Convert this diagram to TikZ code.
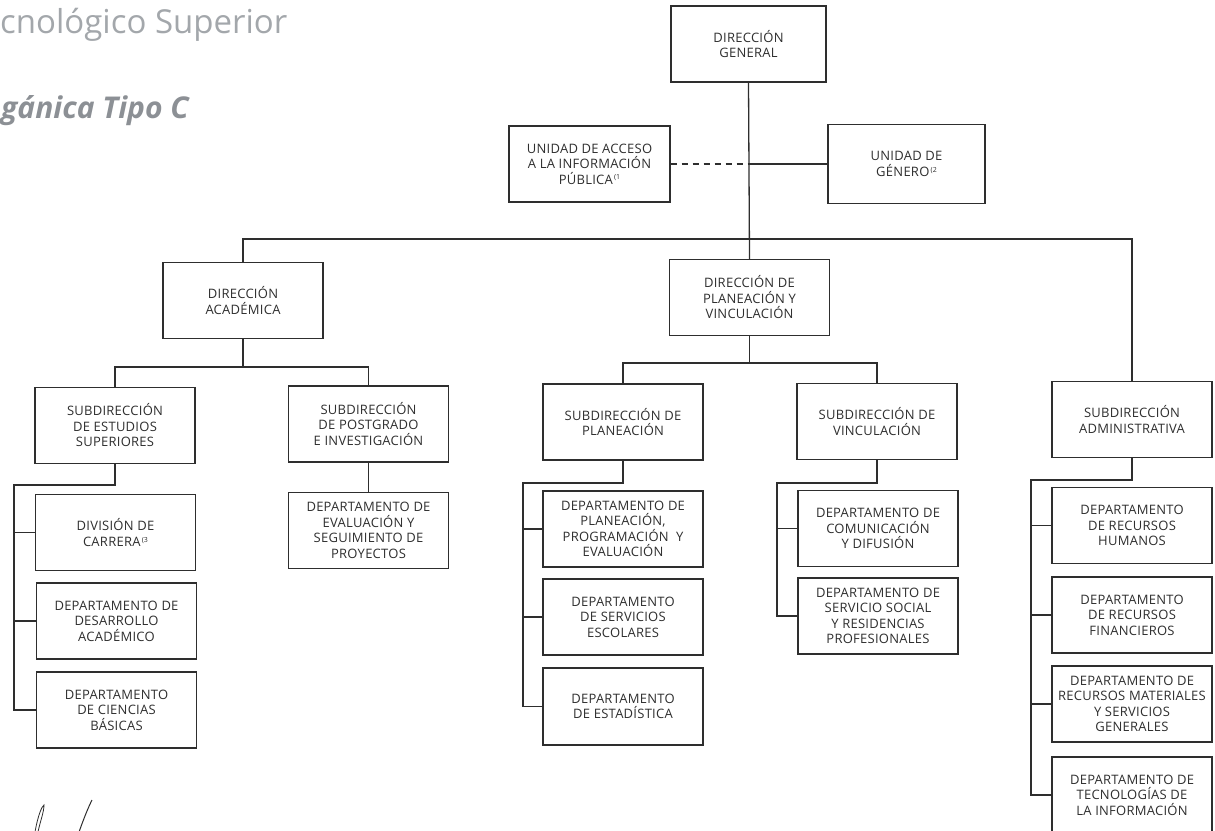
\documentclass[tikz,border=0pt]{standalone}
\usepackage{fontspec}
\newfontfamily\orgfont{Open Sans}[LetterSpace=2]
\newfontfamily\titlefont{Open Sans}
\definecolor{inkgray}{HTML}{2E2E2E}
\definecolor{titlegray}{HTML}{A3A7AB}
\definecolor{subtitlegray}{HTML}{8C9095}
\newcommand{\fnref}[1]{\raisebox{.6ex}{\fontsize{7}{7}\selectfont\,(#1}}
\tikzset{
  orgbox/.style={draw=inkgray, line width=1.3pt, minimum width=160pt, minimum height=76pt,
    inner sep=1pt, align=center, text=inkgray,
    font=\orgfont\fontsize{13}{15.5}\selectfont},
  orgline/.style={draw=inkgray, line width=1.3pt}
}
\begin{document}
\begin{tikzpicture}[x=1pt,y=-1pt]
        \useasboundingbox (0,0) rectangle (1215,830);
        \clip (0,0) rectangle (1215,830);

        % Title (cut at the left edge)
        \node[anchor=base west, inner sep=0pt, text=titlegray, font=\titlefont\fontsize{33}{33}\selectfont] (title) at (0,33) {cnológico Superior};
        \node[anchor=base west, inner sep=0pt, text=subtitlegray, font=\titlefont\itshape\bfseries\fontsize{30}{30}\selectfont] (subtitle) at (1,118) {gánica Tipo C};

        % Top level and staff units
        \node[orgbox, minimum width=155pt] (dg) at (748.5,44) {DIRECCIÓN\\GENERAL};
        \node[orgbox, minimum width=161pt] (uaip) at (589.5,164) {UNIDAD DE ACCESO\\A LA INFORMACIÓN\\PÚBLICA\fnref{1}};
        \node[orgbox, minimum width=157pt, minimum height=79pt] (ug) at (906.5,164) {UNIDAD DE\\GÉNERO\fnref{2}};

        % Second level
        \node[orgbox] (da) at (243,300.5) {DIRECCIÓN\\ACADÉMICA};
        \node[orgbox] (dpv) at (749.5,297.5) {DIRECCIÓN DE\\PLANEACIÓN Y\\VINCULACIÓN};
        \node[orgbox] (sa) at (1132,419.5) {SUBDIRECCIÓN\\ADMINISTRATIVA};

        % Subdirections
        \node[orgbox] (ses) at (115,425.5) {SUBDIRECCIÓN\\DE ESTUDIOS\\SUPERIORES};
        \node[orgbox] (spi) at (368.5,424) {SUBDIRECCIÓN\\DE POSTGRADO\\E INVESTIGACIÓN};
        \node[orgbox] (sp) at (623,422) {SUBDIRECCIÓN DE\\PLANEACIÓN};
        \node[orgbox] (sv) at (877,421.5) {SUBDIRECCIÓN DE\\VINCULACIÓN};

        % Departments
        \node[orgbox] (dc) at (115.5,532.5) {DIVISIÓN DE\\CARRERA\fnref{3}};
        \node[orgbox] (dda) at (116.5,621) {DEPARTAMENTO DE\\DESARROLLO\\ACADÉMICO};
        \node[orgbox] (dcb) at (116.5,710) {DEPARTAMENTO\\DE CIENCIAS\\BÁSICAS};
        \node[orgbox] (desp) at (368.5,530.5) {DEPARTAMENTO DE\\EVALUACIÓN Y\\SEGUIMIENTO DE\\PROYECTOS};
        \node[orgbox] (dppe) at (623,529) {DEPARTAMENTO DE\\PLANEACIÓN,\\PROGRAMACIÓN\ \ Y\\EVALUACIÓN};
        \node[orgbox] (dse) at (623,617) {DEPARTAMENTO\\DE SERVICIOS\\ESCOLARES};
        \node[orgbox, minimum height=77pt] (dest) at (623,706.5) {DEPARTAMENTO\\DE ESTADÍSTICA};
        \node[orgbox] (dcd) at (878,528.5) {DEPARTAMENTO DE\\COMUNICACIÓN\\Y DIFUSIÓN};
        \node[orgbox] (dssrp) at (878,616) {DEPARTAMENTO DE\\SERVICIO SOCIAL\\Y RESIDENCIAS\\PROFESIONALES};
        \node[orgbox] (drh) at (1132,525.5) {DEPARTAMENTO\\DE RECURSOS\\HUMANOS};
        \node[orgbox] (drf) at (1132,615) {DEPARTAMENTO\\DE RECURSOS\\FINANCIEROS};
        \node[orgbox] (drmsg) at (1132,704) {DEPARTAMENTO DE\\RECURSOS MATERIALES\\Y SERVICIOS\\GENERALES};
        \node[orgbox] (dti) at (1132,795) {DEPARTAMENTO DE\\TECNOLOGÍAS DE\\LA INFORMACIÓN};

        % Bus points
        \coordinate (mainbus) at (748.5,239);
        \coordinate (dabus) at (243,367);
        \coordinate (dpvbus) at (749.5,363);
        \coordinate (sesbus) at (14,485);
        \coordinate (spbus) at (523,483);
        \coordinate (svbus) at (777,483);
        \coordinate (sabus) at (1031,480);

        % Connectors from the top
        \draw[orgline] (dg.south) -- (dpv.north);
        \draw[orgline, dashed, dash pattern=on 6pt off 5pt] (uaip.east) -- (uaip.east -| dg.south);
        \draw[orgline] (uaip.east -| dg.south) -- (ug.west);
        \draw[orgline] (da.north) |- (mainbus) -| (sa.north);

        % Second level to subdirections
        \draw[orgline] (da.south) -- (dabus);
        \draw[orgline] (ses.north) |- (dabus) -| (spi.north);
        \draw[orgline] (dpv.south) -- (dpvbus);
        \draw[orgline] (sp.north) |- (dpvbus) -| (sv.north);

        % Subdirections to departments
        \draw[orgline] (ses.south) |- (sesbus) |- (dcb.west);
        \draw[orgline] (sesbus |- dc.west) -- (dc.west);
        \draw[orgline] (sesbus |- dda.west) -- (dda.west);
        \draw[orgline] (spi.south) -- (desp.north);
        \draw[orgline] (sp.south) |- (spbus) |- (dest.west);
        \draw[orgline] (spbus |- dppe.west) -- (dppe.west);
        \draw[orgline] (spbus |- dse.west) -- (dse.west);
        \draw[orgline] (sv.south) |- (svbus) |- (dssrp.west);
        \draw[orgline] (svbus |- dcd.west) -- (dcd.west);
        \draw[orgline] (sa.south) |- (sabus) |- (dti.west);
        \draw[orgline] (sabus |- drh.west) -- (drh.west);
        \draw[orgline] (sabus |- drf.west) -- (drf.west);
        \draw[orgline] (sabus |- drmsg.west) -- (drmsg.west);

        % Hand mark at the bottom left
        \draw[inkgray, line width=0.8pt] (35,832) .. controls (38,815) and (42,806) .. (44,805) .. controls (44,812) and (40,822) .. (38,832);
        \draw[inkgray, line width=1pt] (79,832) .. controls (84,818) and (88,808) .. (92,800);
\end{tikzpicture}
\end{document}
